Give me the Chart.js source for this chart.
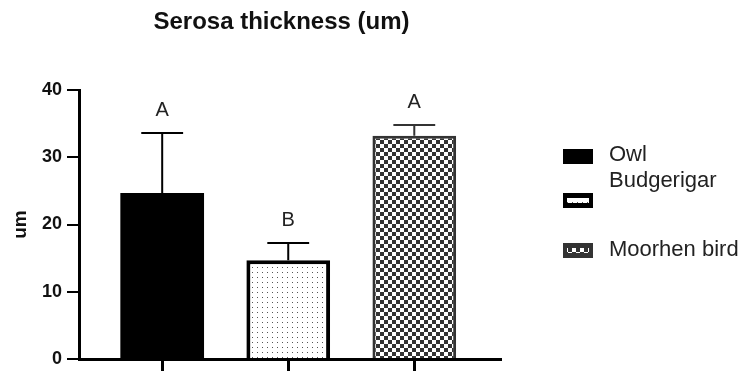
<!DOCTYPE html>
<html>
<head>
<meta charset="utf-8">
<script src="https://cdn.jsdelivr.net/npm/chart.js@4.4.1/dist/chart.umd.min.js"></script>
<style>
    html, body { margin: 0; padding: 0; background: #fff; }
    #wrap { width: 746px; height: 371px; position: relative; }
</style>
</head>
<body>
<div id="wrap"><canvas id="serosaChart"></canvas></div>
<script>
const birds = ['Owl', 'Budgerigar', 'Moorhen bird'];
const means = [24.7, 14.7, 33.2];
const sds = [8.9, 2.55, 1.6];
const groupLetters = ['A', 'B', 'A'];
const yTicks = [0, 10, 20, 30, 40];

const FONT = '"Liberation Sans", Arial, sans-serif';

function makeDots() {
    const c = document.createElement('canvas');
    c.width = 5; c.height = 5;
    const g = c.getContext('2d');
    g.fillStyle = '#fff';
    g.fillRect(0, 0, 5, 5);
    g.fillStyle = '#555';
    g.fillRect(2, 2, 1, 1);
    return g.createPattern(c, 'repeat');
}

function makeChecker() {
    const c = document.createElement('canvas');
    c.width = 8; c.height = 8;
    const g = c.getContext('2d');
    g.fillStyle = '#fff';
    g.fillRect(0, 0, 8, 8);
    g.fillStyle = '#333';
    g.fillRect(0, 0, 4, 4);
    g.fillRect(4, 4, 4, 4);
    return g.createPattern(c, 'repeat');
}

const fills = ['#000', makeDots(), makeChecker()];
const borders = ['#000', '#000', '#333'];
const borderWidths = [0, 4, 3];

const errorBarPlugin = {
    id: 'errorBars',
    afterDatasetsDraw(chart) {
        const ctx = chart.ctx;
        const y = chart.scales.y;
        ctx.save();
        birds.forEach((name, i) => {
            const bar = chart.getDatasetMeta(i).data[0];
            const top = y.getPixelForValue(means[i] + sds[i]);
            const half = bar.width / 4;
            ctx.strokeStyle = i === 2 ? '#333' : '#000';
            ctx.lineWidth = 2;
            ctx.beginPath();
            ctx.moveTo(bar.x, bar.y);
            ctx.lineTo(bar.x, top);
            ctx.moveTo(bar.x - half, top);
            ctx.lineTo(bar.x + half, top);
            ctx.stroke();

            ctx.fillStyle = '#222';
            ctx.font = '20px ' + FONT;
            ctx.textAlign = 'center';
            ctx.textBaseline = 'alphabetic';
            ctx.fillText(groupLetters[i], bar.x, top - 17);
        });
        ctx.restore();
    },
    afterDraw(chart) {
        const ctx = chart.ctx;
        const area = chart.chartArea;
        ctx.save();
        // title
        ctx.fillStyle = '#111';
        ctx.font = 'bold 24px ' + FONT;
        ctx.textAlign = 'center';
        ctx.textBaseline = 'middle';
        ctx.fillText('Serosa thickness (um)', (area.left + area.right) / 2 - 8, 22);

        // legend
        const boxTops = [149, 193, 243];
        const textMid = [155, 181, 250];
        birds.forEach((name, i) => {
            const bx = 563, by = boxTops[i], bw = 30, bh = 15;
            ctx.fillStyle = borders[i];
            ctx.fillRect(bx, by, bw, bh);
            if (i > 0) {
                ctx.fillStyle = fills[i];
                ctx.fillRect(bx + 4, by + 5, bw - 8, bh - 10);
            }
            ctx.fillStyle = '#222';
            ctx.font = '22px ' + FONT;
            ctx.textAlign = 'left';
            ctx.textBaseline = 'middle';
            ctx.fillText(name, 609, textMid[i]);
        });
        ctx.restore();
    }
};

const ctx = document.getElementById('serosaChart').getContext('2d');
new Chart(ctx, {
    type: 'bar',
    data: {
        datasets: birds.map((name, i) => ({
            label: name,
            data: [{ x: i, y: means[i] }],
            backgroundColor: fills[i],
            borderColor: borders[i],
            borderWidth: borderWidths[i],
            barPercentage: 0.83,
            categoryPercentage: 0.8,
            grouped: false
        }))
    },
    options: {
        responsive: true,
        maintainAspectRatio: false,
        animation: false,
        layout: { padding: { top: 90, right: 246, bottom: 0, left: 0 } },
        plugins: {
            legend: { display: false },
            tooltip: { enabled: false },
            title: { display: false }
        },
        scales: {
            x: {
                type: 'linear',
                min: -0.66,
                max: 2.68,
                offset: false,
                afterBuildTicks: axis => { axis.ticks = birds.map((b, i) => ({ value: i })); },
                ticks: { display: false },
                grid: {
                    offset: false,
                    drawOnChartArea: false,
                    drawTicks: true,
                    tickLength: 12,
                    color: '#000',
                    lineWidth: 3
                },
                border: { color: '#000', width: 3 }
            },
            y: {
                min: 0,
                max: 40,
                afterBuildTicks: axis => { axis.ticks = yTicks.map(v => ({ value: v })); },
                afterFit: axis => {
                    axis.width = 79;
                    axis.paddingTop = 0;
                    axis.paddingBottom = 0;
                },
                ticks: {
                    padding: 5,
                    color: '#111',
                    font: { family: FONT, size: 18, weight: 'bold' }
                },
                grid: {
                    drawOnChartArea: false,
                    drawTicks: true,
                    tickLength: 12,
                    color: '#000',
                    lineWidth: 2
                },
                border: { color: '#000', width: 3 },
                title: {
                    display: true,
                    text: 'um',
                    color: '#111',
                    padding: { top: 9, bottom: 0 },
                    font: { family: FONT, size: 19, weight: 'bold' }
                }
            }
        }
    },
    plugins: [errorBarPlugin]
});
</script>
</body>
</html>
